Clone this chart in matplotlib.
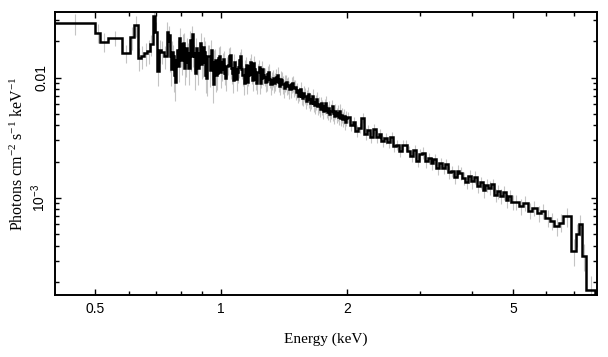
import numpy as np
import matplotlib
matplotlib.use("Agg")
import matplotlib.pyplot as plt
from matplotlib.ticker import FixedLocator, FixedFormatter, NullFormatter

plt.rcParams["mathtext.default"] = "regular"

# Bin edges (keV)
edges = [
    # 0.4 - 0.74 keV, wide bins
    0.40, 0.50, 0.514, 0.535, 0.579, 0.606, 0.617, 0.631, 0.642, 0.654,
    0.664, 0.676, 0.686, 0.694, 0.702, 0.710, 0.718, 0.728,
    # 0.74 - 1.0 keV
    0.740, 0.7445, 0.749, 0.753, 0.757, 0.7615, 0.766, 0.7705, 0.775, 0.7795,
    0.784, 0.7885, 0.793, 0.7975, 0.802, 0.8065, 0.811, 0.816, 0.821, 0.8255,
    0.830, 0.835, 0.840, 0.845, 0.850, 0.855, 0.860, 0.865, 0.870, 0.875,
    0.880, 0.885, 0.890, 0.8955, 0.901, 0.906, 0.911, 0.9165, 0.922, 0.9275,
    0.933, 0.9385, 0.944, 0.9495, 0.955, 0.9605, 0.966, 0.9715, 0.977, 0.983,
    0.989, 0.9945,
    # 1.0 - 1.5 keV
    1.000, 1.006, 1.012, 1.018, 1.024, 1.030, 1.036, 1.042, 1.048, 1.054,
    1.060, 1.0665, 1.073, 1.0795, 1.086, 1.0925, 1.099, 1.1055, 1.112, 1.1185,
    1.125, 1.1315, 1.138, 1.145, 1.152, 1.159, 1.166, 1.173, 1.180, 1.187,
    1.194, 1.201, 1.208, 1.215, 1.222, 1.2295, 1.237, 1.2445, 1.252, 1.2595,
    1.267, 1.2745, 1.282, 1.2895, 1.297, 1.305, 1.313, 1.321, 1.329, 1.337,
    1.345, 1.353, 1.361, 1.369, 1.377, 1.3855, 1.394, 1.4025, 1.411, 1.4195,
    1.428, 1.4365, 1.445, 1.4535, 1.462, 1.471, 1.480, 1.490,
    # 1.5 - 2.0 keV
    1.500, 1.509, 1.518, 1.527, 1.536, 1.5455, 1.555, 1.5645, 1.574, 1.5835,
    1.593, 1.6025, 1.612, 1.6215, 1.631, 1.641, 1.651, 1.661, 1.671, 1.681,
    1.691, 1.701, 1.711, 1.7215, 1.732, 1.7425, 1.753, 1.7635, 1.774, 1.7845,
    1.795, 1.806, 1.817, 1.828, 1.839, 1.850, 1.861, 1.8725, 1.884, 1.8955,
    1.907, 1.9185, 1.930, 1.9415, 1.953, 1.9645, 1.976, 1.988,
    # 2.0 - 5.0 keV
    2.000, 2.032, 2.065, 2.098, 2.132, 2.166, 2.201, 2.236, 2.272, 2.308,
    2.345, 2.383, 2.421, 2.460, 2.500, 2.540, 2.581, 2.622, 2.664, 2.707,
    2.750, 2.794, 2.839, 2.885, 2.931, 2.978, 3.026, 3.075, 3.124, 3.174,
    3.225, 3.277, 3.330, 3.383, 3.437, 3.492, 3.548, 3.605, 3.663, 3.722,
    3.782, 3.843, 3.905, 3.968, 4.032, 4.097, 4.163, 4.230, 4.298, 4.367,
    4.437, 4.508, 4.580, 4.653, 4.727, 4.802, 4.879, 4.957,
    # 5.0 - 8.3 keV
    5.036, 5.16, 5.29, 5.42, 5.56, 5.70, 5.84, 5.98, 6.13, 6.28, 6.44,
    6.60, 6.90, 7.08, 7.18, 7.30, 7.50, 7.85, 8.30,
]

# Photons cm^-2 s^-1 keV^-1 per bin
flux = [
    0.0285, 0.0236, 0.0198, 0.0214, 0.0161, 0.0217, 0.0274, 0.0145, 0.0150, 0.0160,
    0.0168, 0.0190, 0.0326, 0.0240, 0.0114, 0.0170, 0.0165, 0.0150,

    0.0240, 0.0200, 0.0225, 0.0150, 0.0118, 0.0165, 0.0150, 0.0105, 0.0092, 0.0140,
    0.0170, 0.0125, 0.0215, 0.0160, 0.0140, 0.0190, 0.0195, 0.0120, 0.0135, 0.0175,
    0.0160, 0.0120, 0.0205, 0.0150, 0.0230, 0.0160, 0.0150, 0.0110, 0.0175, 0.0140,
    0.0120, 0.0160, 0.0195, 0.0130, 0.0135, 0.0180, 0.0165, 0.0105, 0.0100, 0.0150,
    0.0150, 0.0115, 0.0170, 0.0130, 0.0088, 0.0135, 0.0140, 0.0105, 0.0110, 0.0145,
    0.0150, 0.0112,

    0.0118, 0.0135, 0.0142, 0.0110, 0.0100, 0.0125, 0.0128, 0.0150, 0.0155, 0.0120,
    0.0110, 0.0095, 0.0135, 0.0118, 0.0098, 0.0112, 0.0122, 0.0140, 0.0150, 0.0118,
    0.0105, 0.0090, 0.0118, 0.0128, 0.0092, 0.0105, 0.0125, 0.0135, 0.0108, 0.0096,
    0.0132, 0.0118, 0.0098, 0.0090, 0.0112, 0.0122, 0.0090, 0.0100, 0.0118, 0.0105,
    0.0102, 0.0092, 0.0094, 0.0108, 0.0112, 0.0098, 0.0088, 0.0095, 0.0100, 0.0090,
    0.0093, 0.0102, 0.0106, 0.0092, 0.0086, 0.0098, 0.0096, 0.0088, 0.0082, 0.0090,
    0.0092, 0.0085, 0.0087, 0.0080, 0.0080, 0.0088, 0.0090, 0.0082,

    0.0084, 0.0076, 0.0079, 0.0071, 0.0074, 0.0080, 0.0070, 0.0068, 0.0075, 0.0071,
    0.0064, 0.0069, 0.0073, 0.0066, 0.0062, 0.0064, 0.0070, 0.0061, 0.0059, 0.0063,
    0.0066, 0.0058, 0.0060, 0.0055, 0.0061, 0.0057, 0.0053, 0.0058, 0.0062, 0.0054,
    0.0052, 0.0056, 0.0050, 0.0053, 0.0058, 0.0051, 0.0048, 0.0053, 0.0049, 0.0051,
    0.0047, 0.0053, 0.0046, 0.0049, 0.0045, 0.0048, 0.0043, 0.0046,

    0.00470, 0.00403, 0.00425, 0.00362, 0.00384, 0.00465, 0.00341, 0.00369, 0.00320, 0.00377,
    0.00321, 0.00342, 0.00295, 0.00312, 0.00292, 0.00319, 0.00268, 0.00275, 0.00244, 0.00275,
    0.00275, 0.00243, 0.00222, 0.00251, 0.00203, 0.00230, 0.00237, 0.00201, 0.00214, 0.00193,
    0.00209, 0.00177, 0.00194, 0.00178, 0.00190, 0.00164, 0.00167, 0.00148, 0.00168, 0.00161,
    0.00146, 0.00135, 0.00153, 0.00137, 0.00148, 0.00125, 0.00134, 0.00115, 0.00128, 0.00121,
    0.00129, 0.00105, 0.00113, 0.00104, 0.00111, 0.00095, 0.00103, 0.00092,

    0.00092, 0.00085, 0.00090, 0.00078, 0.00082, 0.00074, 0.00078, 0.00068, 0.00064, 0.00058,
    0.00062,
    0.00070, 0.00036, 0.00050, 0.00060, 0.00033, 0.00017, 0.00012,
]

# relative 1-sigma error per bin
rel_err = [
    0.20, 0.18, 0.18, 0.15, 0.17, 0.22, 0.20, 0.22, 0.22, 0.22,
    0.22, 0.20, 0.18, 0.22, 0.25, 0.22, 0.22, 0.22,

    0.22, 0.24, 0.20, 0.26, 0.28, 0.22, 0.24, 0.28, 0.30, 0.22,
    0.22, 0.26, 0.20, 0.24, 0.25, 0.22, 0.20, 0.27, 0.25, 0.22,
    0.22, 0.27, 0.20, 0.24, 0.18, 0.23, 0.25, 0.28, 0.22, 0.25,
    0.28, 0.23, 0.20, 0.25, 0.25, 0.21, 0.22, 0.29, 0.30, 0.24,
    0.24, 0.27, 0.22, 0.26, 0.30, 0.25, 0.24, 0.28, 0.28, 0.24,
    0.22, 0.27,

    0.20, 0.19, 0.18, 0.21, 0.22, 0.19, 0.18, 0.17, 0.16, 0.19,
    0.20, 0.22, 0.17, 0.19, 0.21, 0.19, 0.18, 0.16, 0.15, 0.18,
    0.19, 0.21, 0.18, 0.17, 0.20, 0.19, 0.16, 0.16, 0.18, 0.19,
    0.15, 0.17, 0.19, 0.19, 0.17, 0.16, 0.19, 0.18, 0.16, 0.17,
    0.17, 0.18, 0.18, 0.16, 0.16, 0.17, 0.18, 0.17, 0.16, 0.17,
    0.17, 0.16, 0.15, 0.17, 0.17, 0.16, 0.16, 0.17, 0.17, 0.16,
    0.15, 0.16, 0.16, 0.17, 0.16, 0.15, 0.15, 0.16,

    0.14, 0.15, 0.15, 0.14, 0.14, 0.15, 0.15, 0.14, 0.14, 0.15,
    0.15, 0.14, 0.14, 0.15, 0.15, 0.14, 0.14, 0.15, 0.15, 0.14,
    0.14, 0.15, 0.15, 0.14, 0.14, 0.15, 0.15, 0.14, 0.14, 0.15,
    0.14, 0.15, 0.15, 0.14, 0.13, 0.14, 0.15, 0.14, 0.14, 0.15,
    0.14, 0.13, 0.14, 0.15, 0.14, 0.14, 0.15, 0.14,

    0.10, 0.11, 0.10, 0.11, 0.10, 0.10, 0.11, 0.10, 0.11, 0.10,
    0.11, 0.10, 0.11, 0.10, 0.11, 0.10, 0.11, 0.10, 0.11, 0.10,
    0.11, 0.10, 0.11, 0.10, 0.12, 0.11, 0.11, 0.12, 0.11, 0.12,
    0.11, 0.12, 0.11, 0.12, 0.11, 0.12, 0.11, 0.12, 0.11, 0.12,
    0.12, 0.13, 0.12, 0.13, 0.12, 0.13, 0.12, 0.13, 0.12, 0.13,
    0.12, 0.13, 0.13, 0.14, 0.13, 0.14, 0.13, 0.14,

    0.14, 0.15, 0.14, 0.15, 0.14, 0.15, 0.14, 0.16, 0.16, 0.17,
    0.17,
    0.18, 0.25, 0.22, 0.20, 0.25, 0.30, 0.30,
]

x_ticks = [0.5, 1, 2, 5]
x_ticklabels = ["0.5", "1", "2", "5"]
x_minor = [0.6, 0.7, 0.8, 0.9, 3, 4, 6, 7]
y_ticks = [1e-3, 1e-2]
y_ticklabels = ["$10^{-3}$", "0.01"]
y_minor = [2e-4, 3e-4, 4e-4, 5e-4, 6e-4, 7e-4, 8e-4, 9e-4,
           2e-3, 3e-3, 4e-3, 5e-3, 6e-3, 7e-3, 8e-3, 9e-3, 0.02, 0.03]

edges_a = np.array(edges)
flux_a = np.array(flux)
err_a = flux_a * np.array(rel_err)
centers = np.sqrt(edges_a[:-1] * edges_a[1:])

fig = plt.figure(figsize=(6.08, 3.57), dpi=100)
ax = fig.add_axes([55 / 608, 1 - 295 / 357, 542 / 608, 283 / 357])

# error bars first, then the step line over them
ax.vlines(centers, flux_a - err_a, flux_a + err_a, color="#c4c4c4", lw=0.8, zorder=1)
ax.stairs(flux_a, edges_a, baseline=None, color="black", lw=1.8, zorder=2)

ax.set_xscale("log")
ax.set_yscale("log")
ax.set_xlim(0.4, 7.95)
ax.set_ylim(1.55e-4, 0.0352)

ax.xaxis.set_major_locator(FixedLocator(x_ticks))
ax.xaxis.set_major_formatter(FixedFormatter(x_ticklabels))
ax.xaxis.set_minor_locator(FixedLocator(x_minor))
ax.xaxis.set_minor_formatter(NullFormatter())
ax.yaxis.set_major_locator(FixedLocator(y_ticks))
ax.yaxis.set_major_formatter(FixedFormatter(y_ticklabels))
ax.yaxis.set_minor_locator(FixedLocator(y_minor))
ax.yaxis.set_minor_formatter(NullFormatter())

ax.tick_params(which="both", direction="in", top=True, right=True, width=1.0)
ax.tick_params(which="major", length=4.5, pad=5)
ax.tick_params(which="minor", length=2.8)
for lab in ax.get_xticklabels() + ax.get_yticklabels():
    lab.set_family("Liberation Sans")
    lab.set_fontsize(10)
for lab in ax.get_yticklabels():
    lab.set_rotation(90)
    lab.set_va("center")
for sp in ax.spines.values():
    sp.set_linewidth(1.4)

ax.set_xlabel("Energy (keV)", family="Liberation Serif", fontsize=11, labelpad=12)
ax.set_ylabel("Photons cm$^{-2}$ s$^{-1}$ keV$^{-1}$", family="Liberation Serif",
              fontsize=11.5, labelpad=2)

fig.savefig("out.png", dpi=100)
